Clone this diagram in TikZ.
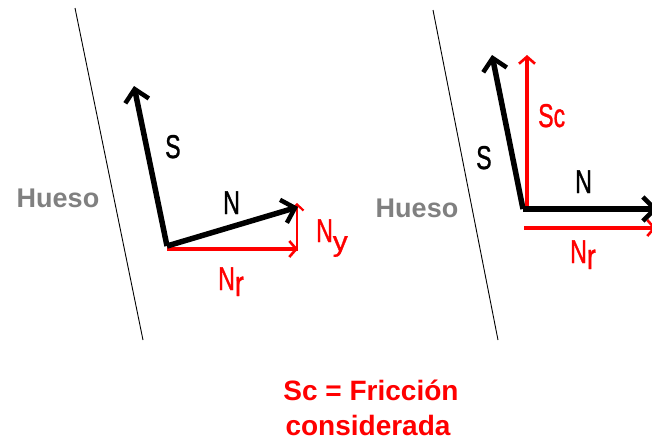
\documentclass[tikz,border=0pt]{standalone}
\usepackage{fontspec}
\usepackage{graphicx}
\setmainfont{Liberation Sans}
\newfontfamily\labfont[FakeBold=1.2]{Liberation Sans}
\usetikzlibrary{arrows.meta}
\newcommand\nar[1]{\scalebox{0.7}[1]{#1}}
\definecolor{boneg}{HTML}{808080}
\definecolor{fred}{HTML}{FF0000}
\begin{document}
\begin{tikzpicture}[x=1pt,y=-1pt,
  bone/.style={draw=black,line width=0.9pt},
  bvec/.style={draw=black,line width=5.5pt,-{Straight Barb[length=12pt,width=24pt,line width=4.5pt]}},
  rvec/.style={draw=fred,line width=3.6pt,-{Straight Barb[length=7pt,width=16pt,line width=2.6pt]}},
  rvecthin/.style={draw=fred,line width=2.6pt,-{Straight Barb[length=6pt,width=13pt,line width=2.2pt]}},
  lab/.style={inner sep=0pt,anchor=base west,font=\labfont\fontsize{33}{33}\selectfont},
  hueso/.style={inner sep=0pt,text=boneg,font=\bfseries\fontsize{27}{27}\selectfont},
  note/.style={inner sep=0pt,anchor=base,text=fred,font=\bfseries\fontsize{28}{28}\selectfont}]
\useasboundingbox (0,0) rectangle (652,440);
\fill[white] (0,0) rectangle (652,440);
% ---------- left panel ----------
\coordinate (b1t) at (75,8);
\coordinate (b1b) at (143,340);
\draw[bone] (b1t) -- (b1b);
\coordinate (o1) at (167,246);
\coordinate (n1) at (298,207);
\coordinate (s1) at (134,86);
\coordinate (o1r) at (167,249);
\coordinate (nr1) at (298,249);
\coordinate (ny1s) at (297,251);
\coordinate (ny1) at (297,203);
\draw[rvec] (o1r) -- (nr1);
\draw[rvecthin] (ny1s) -- (ny1);
\draw[bvec] (o1) -- (s1);
\draw[bvec] (o1) -- (n1);
\node[hueso] (h1) at (58,198) {Hueso};
\node[lab] (ls1) at (165,158) {\nar{S}};
\node[lab] (ln1) at (223,214) {\nar{N}};
\node[lab,text=fred] (lny1) at (316,242) {\nar{N}\raisebox{-9pt}{\scalebox{0.9}[0.85]{y}}};
\node[lab,text=fred] (lnr1) at (218,290) {\nar{N}\raisebox{-6pt}{\scalebox{0.75}[1]{\fontsize{36}{36}\selectfont r}}};
% ---------- right panel ----------
\coordinate (b2t) at (433,10);
\coordinate (b2b) at (498,340);
\draw[bone] (b2t) -- (b2b);
\coordinate (o2) at (523,209);
\coordinate (s2) at (492,55);
\coordinate (sc0) at (527,207);
\coordinate (sc2) at (527,55);
\coordinate (n2) at (658,209);
\coordinate (o2r) at (524,228);
\coordinate (nr2) at (656,228);
\draw[rvec] (sc0) -- (sc2);
\draw[rvec] (o2r) -- (nr2);
\draw[bvec] (o2) -- (s2);
\draw[bvec] (o2) -- (n2);
\node[hueso] (h2) at (417,208) {Hueso};
\node[lab,text=fred] (lsc2) at (538,127) {\nar{Sc}};
\node[lab] (ls2) at (476,169) {\nar{S}};
\node[lab] (ln2) at (575,193) {\nar{N}};
\node[lab,text=fred] (lnr2) at (570,263) {\nar{N}\raisebox{-6pt}{\scalebox{0.75}[1]{\fontsize{36}{36}\selectfont r}}};
% ---------- note ----------
\node[note] (note1) at (371,400) {Sc = Fricción};
\node[note] (note2) at (368,435) {considerada};
\end{tikzpicture}
\end{document}
